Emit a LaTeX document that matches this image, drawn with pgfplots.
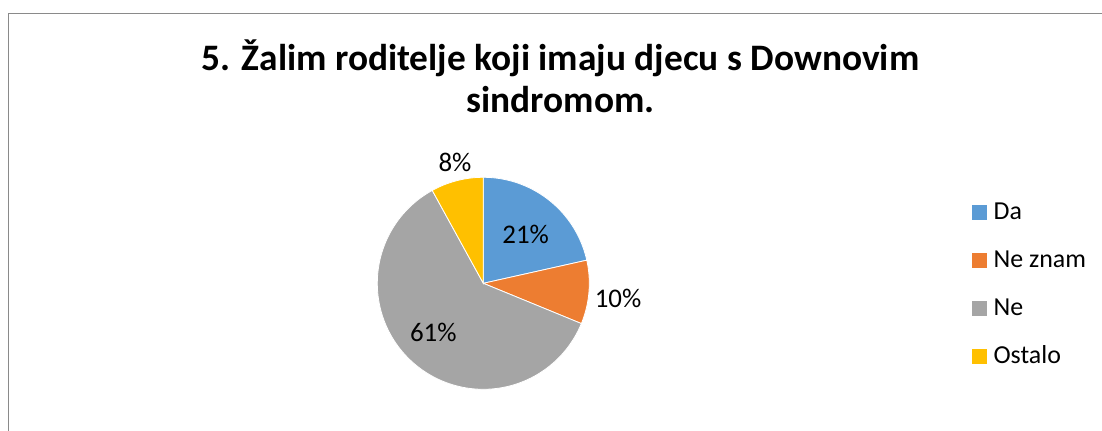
\documentclass[border=0pt]{standalone}
\usepackage{pgfplots}
\pgfplotsset{compat=1.18}
\usepackage{pgfplotstable}
\usepackage{fontspec}
\setmainfont{Carlito}
\definecolor{cDa}{HTML}{5B9BD5}
\definecolor{cNz}{HTML}{ED7D31}
\definecolor{cNe}{HTML}{A5A5A5}
\definecolor{cOs}{HTML}{FFC000}
\definecolor{frm}{HTML}{8A8A8A}

\pgfplotstableread{
label value
Da 21.5
NeZnam 9.7
Ne 60.8
Ostalo 8.0
}\piedata
\pgfplotstablegetelem{0}{value}\of\piedata \let\vA\pgfplotsretval
\pgfplotstablegetelem{1}{value}\of\piedata \let\vB\pgfplotsretval
\pgfplotstablegetelem{2}{value}\of\piedata \let\vC\pgfplotsretval
\pgfplotstablegetelem{3}{value}\of\piedata \let\vD\pgfplotsretval
\pgfmathsetmacro\aA{90}
\pgfmathsetmacro\aB{\aA-3.6*\vA}
\pgfmathsetmacro\aC{\aB-3.6*\vB}
\pgfmathsetmacro\aD{\aC-3.6*\vC}
\pgfmathsetmacro\aE{\aD-3.6*\vD}

\begin{document}
\begin{tikzpicture}[x=1bp,y=1bp]
\useasboundingbox (0,0) rectangle (1102,430);
\draw[frm, line width=1.3bp] (8.5,-2) -- (8.5,416.5) -- (1104,416.5);
\node[font=\bfseries\fontsize{37.5}{40}\selectfont, anchor=base, inner sep=0pt] at (560.5,360) {5. Žalim roditelje koji imaju djecu s Downovim};
\node[font=\bfseries\fontsize{37.5}{40}\selectfont, anchor=base, inner sep=0pt] at (560.5,318) {sindromom.};
\begin{axis}[
  at={(483.3bp,146.7bp)}, anchor=origin,
  hide axis, scale only axis, width=212bp, height=212bp,
  xmin=-1, xmax=1, ymin=-1, ymax=1, clip=false,
  legend cell align=left,
  legend image code/.code={\fill[#1, draw=none] (0bp,-7.5bp) rectangle (15bp,7.5bp); \path (21bp,0bp);},
  legend style={draw=none, fill=none, at={(axis cs:4.61,-0.01)}, anchor=west, inner sep=0pt,
    font=\fontsize{26}{30}\selectfont, row sep=28bp, column sep=0pt,
    nodes={inner sep=0pt, text height=17bp, text depth=3bp}},
]
\addplot[fill=cDa, draw=white, line width=0.8bp, domain=\aB:\aA, samples=60, variable=\t] ({cos(\t)},{sin(\t)}) -- (axis cs:0,0) -- cycle;
\addlegendentry{Da}
\addplot[fill=cNz, draw=white, line width=0.8bp, domain=\aC:\aB, samples=40, variable=\t] ({cos(\t)},{sin(\t)}) -- (axis cs:0,0) -- cycle;
\addlegendentry{Ne znam}
\addplot[fill=cNe, draw=white, line width=0.8bp, domain=\aD:\aC, samples=120, variable=\t] ({cos(\t)},{sin(\t)}) -- (axis cs:0,0) -- cycle;
\addlegendentry{Ne}
\addplot[fill=cOs, draw=white, line width=0.8bp, domain=\aE:\aD, samples=30, variable=\t] ({cos(\t)},{sin(\t)}) -- (axis cs:0,0) -- cycle;
\addlegendentry{Ostalo}
\node[font=\fontsize{27}{30}\selectfont] at (axis cs:0.40,0.462) {21\%};
\node[font=\fontsize{27}{30}\selectfont] at (axis cs:1.271,-0.139) {10\%};
\node[font=\fontsize{27}{30}\selectfont] at (axis cs:-0.472,-0.466) {61\%};
\node[font=\fontsize{27}{30}\selectfont] at (axis cs:-0.267,1.138) {8\%};
\end{axis}
\end{tikzpicture}
\end{document}
